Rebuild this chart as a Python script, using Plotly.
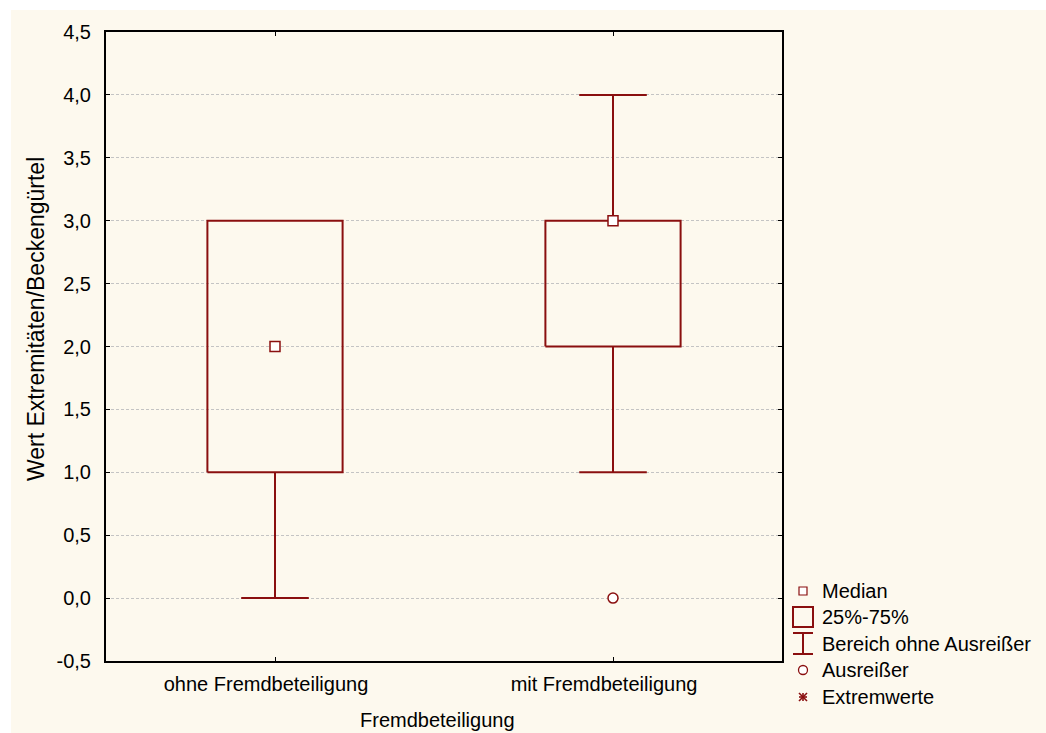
import plotly.graph_objects as go

# Box-plot statistics per group
groups = ["ohne Fremdbeteiligung", "mit Fremdbeteiligung"]
medians = [2.0, 3.0]
q1 = [1.0, 2.0]
q3 = [3.0, 3.0]
whisker_low = [0.0, 1.0]
whisker_high = [3.0, 4.0]
outliers = [[], [0.0]]

y_tickvals = [-0.5, 0.0, 0.5, 1.0, 1.5, 2.0, 2.5, 3.0, 3.5, 4.0, 4.5]
y_ticktext = ["-0,5", "0,0", "0,5", "1,0", "1,5", "2,0", "2,5", "3,0", "3,5", "4,0", "4,5"]

x_title = "Fremdbeteiligung"
y_title = "Wert Extremitäten/Beckengürtel"
legend_labels = ["Median", "25%-75%", "Bereich ohne Ausreißer", "Ausreißer", "Extremwerte"]

RED = "#8a0f0f"
CREAM = "#fdf9ee"
FONT = "Liberation Sans, Arial, sans-serif"

W, H = 1046, 733
L, R, T, B = 106, 264, 32, 72
PW, PH = W - L - R, H - T - B


def px(x):
    return (x - L) / PW


def py(y):
    return (H - B - y) / PH


BOX_HALF = 0.2
CAP_HALF = 0.1

fig = go.Figure()

# boxes (25%-75%)
bx, by = [], []
for i in range(len(groups)):
    bx += [i - BOX_HALF, i + BOX_HALF, i + BOX_HALF, i - BOX_HALF, i - BOX_HALF, None]
    by += [q1[i], q1[i], q3[i], q3[i], q1[i], None]
fig.add_trace(go.Scatter(x=bx, y=by, mode="lines", line=dict(color=RED, width=2),
                         hoverinfo="skip", showlegend=False))

# whiskers with caps
wx, wy = [], []
for i in range(len(groups)):
    if whisker_high[i] > q3[i]:
        wx += [i, i, None, i - CAP_HALF, i + CAP_HALF, None]
        wy += [q3[i], whisker_high[i], None, whisker_high[i], whisker_high[i], None]
    if whisker_low[i] < q1[i]:
        wx += [i, i, None, i - CAP_HALF, i + CAP_HALF, None]
        wy += [q1[i], whisker_low[i], None, whisker_low[i], whisker_low[i], None]
fig.add_trace(go.Scatter(x=wx, y=wy, mode="lines", line=dict(color=RED, width=2),
                         hoverinfo="skip", showlegend=False))

# medians
fig.add_trace(go.Scatter(x=list(range(len(groups))), y=medians, mode="markers",
                         marker=dict(symbol="square", size=10, color="white",
                                     line=dict(color=RED, width=1.5)),
                         showlegend=False))

# outliers
ox, oy = [], []
for i, vals in enumerate(outliers):
    for v in vals:
        ox.append(i)
        oy.append(v)
fig.add_trace(go.Scatter(x=ox, y=oy, mode="markers",
                         marker=dict(symbol="circle", size=10, color="white",
                                     line=dict(color=RED, width=1.5)),
                         showlegend=False))

shapes = []
# cream page background
shapes.append(dict(type="rect", xref="paper", yref="paper", layer="below",
                   x0=px(11), x1=px(W + 5), y0=py(H + 5), y1=py(10),
                   fillcolor=CREAM, line=dict(width=0)))

# legend symbols
lx = 803
row_y = [591, 617, 644, 670, 697]
# median square
shapes.append(dict(type="rect", xref="paper", yref="paper",
                   x0=px(lx - 4), x1=px(lx + 4), y0=py(row_y[0] + 4), y1=py(row_y[0] - 4),
                   line=dict(color=RED, width=1.2), fillcolor="white"))
# box
shapes.append(dict(type="rect", xref="paper", yref="paper",
                   x0=px(lx - 10), x1=px(lx + 10), y0=py(row_y[1] + 10), y1=py(row_y[1] - 10),
                   line=dict(color=RED, width=2), fillcolor="rgba(0,0,0,0)"))
# whisker
for (x0, y0, x1, y1) in [(lx - 10, row_y[2] - 11, lx + 10, row_y[2] - 11),
                         (lx - 10, row_y[2] + 10, lx + 10, row_y[2] + 10),
                         (lx, row_y[2] - 11, lx, row_y[2] + 10)]:
    shapes.append(dict(type="line", xref="paper", yref="paper",
                       x0=px(x0), x1=px(x1), y0=py(y0), y1=py(y1),
                       line=dict(color=RED, width=2)))
# outlier circle
shapes.append(dict(type="circle", xref="paper", yref="paper",
                   x0=px(lx - 4.5), x1=px(lx + 4.5), y0=py(row_y[3] + 4.5), y1=py(row_y[3] - 4.5),
                   line=dict(color=RED, width=1.3), fillcolor="white"))
# extreme-value asterisk
s = 4
for (dx0, dy0, dx1, dy1) in [(0, -s, 0, s), (-s, 0, s, 0), (-s, -s, s, s), (-s, s, s, -s)]:
    shapes.append(dict(type="line", xref="paper", yref="paper",
                       x0=px(lx + dx0), x1=px(lx + dx1), y0=py(row_y[4] + dy0), y1=py(row_y[4] + dy1),
                       line=dict(color=RED, width=1.6)))

annotations = []
for lab, yy in zip(legend_labels, row_y):
    annotations.append(dict(text=lab, xref="paper", yref="paper", x=px(820), y=py(yy),
                            xanchor="left", yanchor="middle", showarrow=False,
                            font=dict(family=FONT, size=20, color="black")))

# axis titles
annotations.append(dict(text=x_title, xref="paper", yref="paper", x=px(437), y=py(720),
                        xanchor="center", yanchor="middle", showarrow=False,
                        font=dict(family=FONT, size=20, color="black")))
annotations.append(dict(text=y_title, xref="paper", yref="paper", x=px(36), y=py(319),
                        xanchor="center", yanchor="middle", showarrow=False, textangle=-90,
                        font=dict(family=FONT, size=23, color="black")))

fig.update_layout(
    width=W, height=H,
    margin=dict(l=L, r=R, t=T, b=B, pad=0),
    paper_bgcolor="white",
    plot_bgcolor="white",
    font=dict(family=FONT, size=20, color="black"),
    shapes=shapes,
    annotations=annotations,
    showlegend=False,
)

fig.update_xaxes(
    range=[-0.5, len(groups) - 0.5],
    tickmode="array", tickvals=list(range(len(groups))), ticktext=groups,
    tickfont=dict(size=20),
    ticks="inside", ticklen=4, tickwidth=1, tickcolor="black",
    showline=True, linewidth=2, linecolor="black", mirror="ticks",
    showgrid=False, zeroline=False,
    ticklabelstandoff=4, ticklabelshift=-9,
)

fig.update_yaxes(
    range=[-0.5, 4.5],
    tickmode="array", tickvals=y_tickvals, ticktext=y_ticktext,
    tickfont=dict(size=20),
    ticks="inside", ticklen=4, tickwidth=1, tickcolor="black",
    showline=True, linewidth=2, linecolor="black", mirror="ticks",
    showgrid=True, gridcolor="#c4c4c4", griddash="3px,2px", gridwidth=1,
    zeroline=False,
    ticklabelstandoff=9,
)

fig.write_html("out.html")
